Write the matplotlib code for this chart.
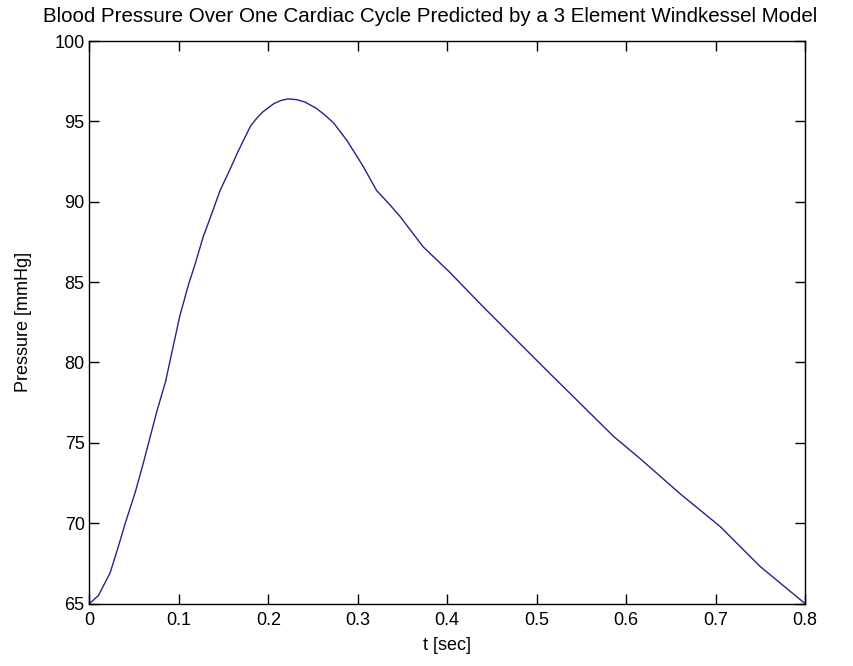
import numpy as np
import matplotlib
matplotlib.use("Agg")
import matplotlib.pyplot as plt

# values
t_sec = [0.0, 0.010, 0.023, 0.032, 0.040, 0.051, 0.060, 0.068, 0.075, 0.085,
         0.092, 0.101, 0.111, 0.118, 0.127, 0.135, 0.146, 0.157, 0.165, 0.172,
         0.180, 0.187, 0.194, 0.206, 0.214, 0.222, 0.232, 0.241, 0.254, 0.263,
         0.273, 0.288, 0.306, 0.321, 0.336, 0.347, 0.373, 0.403, 0.436, 0.470,
         0.515, 0.586, 0.616, 0.661, 0.705, 0.750, 0.800]
pressure = [65.0, 65.5, 66.9, 68.5, 70.0, 71.9, 73.7, 75.4, 76.9, 78.8,
            80.6, 82.9, 84.9, 86.1, 87.8, 89.0, 90.7, 92.0, 93.0, 93.8,
            94.7, 95.2, 95.6, 96.1, 96.3, 96.4, 96.35, 96.2, 95.8, 95.4,
            94.9, 93.8, 92.2, 90.7, 89.8, 89.1, 87.2, 85.6, 83.7, 81.8,
            79.3, 75.4, 74.0, 71.8, 69.8, 67.3, 65.0]

xticks = np.arange(0, 0.81, 0.1)
yticks = np.arange(65, 101, 5)

plt.rcParams['font.family'] = ['Liberation Sans', 'DejaVu Sans']

fig = plt.figure(figsize=(8.54, 6.66), dpi=100)
ax = fig.add_axes([0.1048, 0.0938, 0.8378, 0.8446])

ax.plot(t_sec, pressure, color='#23238e', linewidth=1)

ax.set_xlim(0, 0.8)
ax.set_ylim(65, 100)
ax.set_xticks(xticks)
ax.set_xticklabels(['0'] + ['%.1f' % v for v in xticks[1:]])
ax.set_yticks(yticks)
ax.tick_params(direction='in', length=7, width=1, top=True, right=True,
               labelsize=13)
ax.tick_params(axis='x', pad=6)
for s in ax.spines.values():
    s.set_linewidth(1)

ax.set_xlabel('t [sec]', fontsize=13, labelpad=6)
ax.set_ylabel('Pressure [mmHg]', fontsize=13, labelpad=16)
fig.text(0.5035, 0.99, 'Blood Pressure Over One Cardiac Cycle Predicted by a 3 Element Windkessel Model',
         ha='center', va='top', fontsize=14.8)

fig.savefig('out.png', dpi=100)
